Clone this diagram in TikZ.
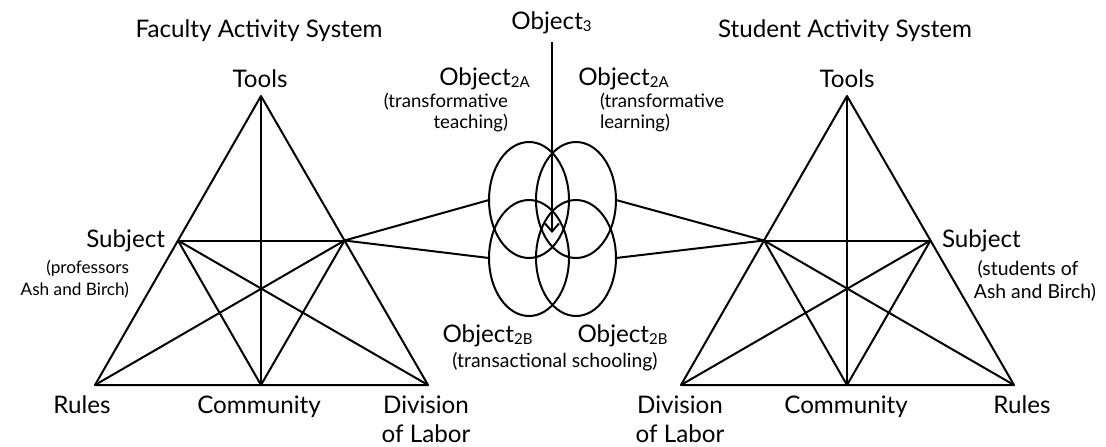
\documentclass[tikz,border=0pt]{standalone}
\usepackage{fontspec}
\setmainfont{Lato}
\usetikzlibrary{arrows.meta,shapes.geometric}
\newcommand\sbs[1]{\raisebox{-2.5pt}{\fontsize{15}{15}\selectfont #1}}
\begin{document}
\begin{tikzpicture}[x=1pt,y=-1pt,
  lbl/.style={font=\fontsize{24.2}{28}\selectfont, inner sep=0pt, outer sep=0pt},
  sm/.style={font=\fontsize{18.6}{22}\selectfont, inner sep=0pt, outer sep=0pt},
  sms/.style={font=\fontsize{17.2}{21}\selectfont, inner sep=0pt, outer sep=0pt},
  smb/.style={font=\fontsize{19.4}{23}\selectfont, inner sep=0pt, outer sep=0pt},
  ln/.style={line width=2pt, line join=round},
  ell/.style={draw, ellipse, line width=2pt, minimum width=80pt, minimum height=116pt, inner sep=0pt, outer sep=0pt}]
\useasboundingbox (0,0) rectangle (1106,447);
% ---- left triangle
\coordinate (lT) at (261,96);
\coordinate (lR) at (95,385);
\coordinate (lD) at (428,385);
\coordinate (lS) at (178,240.5);
\coordinate (lO) at (344.5,240.5);
\coordinate (lC) at (261,385);
\draw[ln] (lT) -- (lR) -- (lD) -- cycle;
\draw[ln] (lS) -- (lO);
\draw[ln] (lT) -- (lC);
\draw[ln] (lS) -- (lC);
\draw[ln] (lS) -- (lD);
\draw[ln] (lO) -- (lC);
\draw[ln] (lO) -- (lR);
% ---- right triangle
\coordinate (rT) at (847,96);
\coordinate (rR) at (1014,385);
\coordinate (rD) at (681,385);
\coordinate (rS) at (930.5,240.5);
\coordinate (rO) at (764,240.5);
\coordinate (rC) at (847,385);
\draw[ln] (rT) -- (rR) -- (rD) -- cycle;
\draw[ln] (rS) -- (rO);
\draw[ln] (rT) -- (rC);
\draw[ln] (rS) -- (rC);
\draw[ln] (rS) -- (rD);
\draw[ln] (rO) -- (rC);
\draw[ln] (rO) -- (rR);
% ---- ellipses
\node[ell] (e1) at (529,200) {};
\node[ell] (e2) at (576,200) {};
\node[ell] (e3) at (529,258) {};
\node[ell] (e4) at (576,258) {};
\draw[ln] (lO) -- (e1.west);
\draw[ln] (lO) -- (e3.west);
\draw[ln] (rO) -- (e2.east);
\draw[ln] (rO) -- (e4.east);
% ---- labels
\node[lbl, anchor=base] (fas) at (259,37) {Faculty Activity System};
\node[lbl, anchor=base] (sas) at (845,37) {Student Activity System};
\node[lbl, anchor=base] (o3) at (551.5,29) {Object\sbs{3}};
\coordinate (tip) at (552,233);
\draw[ln, -{Straight Barb[length=8pt,width=14pt]}] (552,42) -- (tip);
\node[lbl, anchor=base] (lTools) at (260,87) {Tools};
\node[lbl, anchor=base] (rTools) at (847,87) {Tools};
\node[lbl, anchor=base] (o2al) at (484.5,85) {Object\sbs{2A}};
\node[sm, anchor=base east] (o2alt1) at (508,107) {(transformative};
\node[sm, anchor=base east] (o2alt2) at (508,128) {teaching)};
\node[lbl, anchor=base] (o2ar) at (623.5,85) {Object\sbs{2A}};
\node[sm, anchor=base west] (o2art1) at (600,107) {(transformative};
\node[sm, anchor=base west] (o2art2) at (600,128) {learning)};
\node[lbl, anchor=base east] (lSubj) at (165,247) {Subject};
\node[sms, anchor=base east] (lSubj1) at (129,273) {(professors};
\node[sms, anchor=base east] (lSubj2) at (129,295) {Ash and Birch)};
\node[lbl, anchor=base west] (rSubj) at (942,247) {Subject};
\node[smb, anchor=base] (rSubj1) at (1028,275) {(students of};
\node[smb, anchor=base] (rSubj2) at (1035,298) {Ash and Birch)};
\node[lbl, anchor=base] (o2bl) at (487.5,342) {Object\sbs{2B}};
\node[lbl, anchor=base] (o2br) at (622.5,342) {Object\sbs{2B}};
\node[smb, anchor=base] (trs) at (555,367) {(transactional schooling)};
\node[lbl, anchor=base] (lRules) at (82,413) {Rules};
\node[lbl, anchor=base] (lComm) at (259,413) {Community};
\node[lbl, anchor=base] (lDiv1) at (426,413) {Division};
\node[lbl, anchor=base] (lDiv2) at (426,442) {of Labor};
\node[lbl, anchor=base] (rDiv1) at (680,413) {Division};
\node[lbl, anchor=base] (rDiv2) at (680,442) {of Labor};
\node[lbl, anchor=base] (rComm) at (846,413) {Community};
\node[lbl, anchor=base] (rRules) at (1022,413) {Rules};
\end{tikzpicture}
\end{document}
